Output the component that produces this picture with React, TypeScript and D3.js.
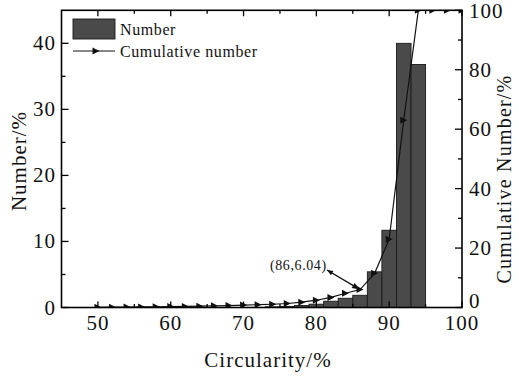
import React from "react";
import * as d3 from "d3";

const binCenters = [74, 76, 78, 80, 82, 84, 86, 88, 90, 92, 94];
const numberPct = [0.1, 0.15, 0.3, 0.5, 0.95, 1.4, 1.85, 5.4, 11.7, 40.0, 36.8];

const cumX = [50, 52, 54, 56, 58, 60, 62, 64, 66, 68, 70, 72, 74, 76, 78, 80, 82, 84, 86, 88, 90, 92, 94, 96, 98, 100];
const cumY = [0.05, 0.1, 0.15, 0.2, 0.25, 0.3, 0.35, 0.45, 0.55, 0.65, 0.8, 0.95, 1.1, 1.35, 1.8, 2.45, 3.4, 4.8, 6.04, 11.5, 23.0, 63.0, 100, 100, 100, 100];

const xMajor = [50, 60, 70, 80, 90, 100];
const xMinor = [55, 65, 75, 85, 95];
const yLeftMajor = [0, 10, 20, 30, 40];
const yLeftMinor = [5, 15, 25, 35];
const yRightMajor = [0, 20, 40, 60, 80, 100];
const yRightMinor = [10, 30, 50, 70, 90];

const annotation = { x: 86, y: 6.04, label: "(86,6.04)" };

const W = 519, H = 378;
const L = 61.5, R = 462, T = 10.3, B = 307.5;
const FONT = "'Liberation Serif', 'Times New Roman', serif";

export default function App() {
  const x = d3.scaleLinear().domain([45, 100]).range([L, R]);
  const yL = d3.scaleLinear().domain([0, 45]).range([B, T]);
  const yR = d3.scaleLinear().domain([0, 100]).range([B, T]);
  const binW = x(2) - x(0);
  const line = d3.line<number>().x((_, i) => x(cumX[i])).y((d) => yR(d));
  const tri = (cx: number, cy: number, s = 7) =>
    `M${cx - s / 2},${cy - s / 2}L${cx + s / 2},${cy}L${cx - s / 2},${cy + s / 2}Z`;

  const ax = x(annotation.x), ay = yR(annotation.y);
  const sx = 327, sy = 270;
  const ang = Math.atan2(ay - sy, ax - sx);
  const head = (px: number, py: number, a: number, len = 8, w = 3) => {
    const bx = px - len * Math.cos(a), by = py - len * Math.sin(a);
    const nx = -Math.sin(a) * w, ny = Math.cos(a) * w;
    return `M${px},${py}L${bx + nx},${by + ny}L${bx - nx},${by - ny}Z`;
  };

  const tickStyle = { stroke: "#000", strokeWidth: 1.3 };
  const lbl = { fontFamily: FONT, fontSize: 21, letterSpacing: 1.0, fill: "#111" };

  return (
    <svg width={W} height={H} style={{ position: "absolute", left: 0, top: 0, background: "#fff" }}>
      <defs>
        <clipPath id="plot">
          <rect x={L} y={T} width={R - L} height={B - T} />
        </clipPath>
      </defs>
      <g clipPath="url(#plot)">
        {binCenters.map((c, i) => (
          <rect key={c} x={x(c - 1)} y={yL(numberPct[i])} width={binW} height={B - yL(numberPct[i])}
            fill="#4a4a4a" stroke="#1a1a1a" strokeWidth={0.9} />
        ))}
        <path d={line(cumY) || ""} fill="none" stroke="#111" strokeWidth={1.2} />
        {cumY.map((v, i) => (
          <path key={i} d={tri(x(cumX[i]), yR(v))} fill="#111" />
        ))}
      </g>
      <rect x={L} y={T} width={R - L} height={B - T} fill="none" stroke="#000" strokeWidth={1.6} />
      {xMajor.map((v) => (
        <g key={"xm" + v}>
          <line x1={x(v)} x2={x(v)} y1={B} y2={B - 6} {...tickStyle} />
          <line x1={x(v)} x2={x(v)} y1={T} y2={T + 6} {...tickStyle} />
          <text x={x(v)} y={330} textAnchor="middle" {...lbl}>{v}</text>
        </g>
      ))}
      {xMinor.map((v) => (
        <g key={"xn" + v}>
          <line x1={x(v)} x2={x(v)} y1={B} y2={B - 3.5} {...tickStyle} />
          <line x1={x(v)} x2={x(v)} y1={T} y2={T + 3.5} {...tickStyle} />
        </g>
      ))}
      {yLeftMajor.map((v) => (
        <g key={"yl" + v}>
          <line x1={L} x2={L + 7} y1={yL(v)} y2={yL(v)} {...tickStyle} />
          <text x={56} y={yL(v) + 7} textAnchor="end" {...lbl}>{v}</text>
        </g>
      ))}
      {yLeftMinor.map((v) => (
        <line key={"yln" + v} x1={L} x2={L + 4} y1={yL(v)} y2={yL(v)} {...tickStyle} />
      ))}
      {yRightMajor.map((v) => (
        <g key={"yr" + v}>
          <line x1={R} x2={R - 7} y1={yR(v)} y2={yR(v)} {...tickStyle} />
          <text x={469} y={yR(v) + (v === 0 ? 0 : v === 100 ? 8 : 7)} textAnchor="start" {...lbl}>{v}</text>
        </g>
      ))}
      {yRightMinor.map((v) => (
        <line key={"yrn" + v} x1={R} x2={R - 4} y1={yR(v)} y2={yR(v)} {...tickStyle} />
      ))}
      <text x={268} y={367} textAnchor="middle" {...lbl}>Circularity/%</text>
      <text transform={`translate(26,161) rotate(-90)`} textAnchor="middle" {...lbl}>Number/%</text>
      <text transform={`translate(511,179) rotate(-90)`} textAnchor="middle" fontFamily={FONT} fontSize={20} letterSpacing={1.2} fill="#111">Cumulative Number/%</text>
      <text x={270} y={270} fontFamily={FONT} fontSize={14} letterSpacing={0.6} fill="#111">{annotation.label}</text>
      <line x1={sx} y1={sy} x2={ax} y2={ay} stroke="#111" strokeWidth={1.4} />
      <path d={head(ax, ay, ang)} fill="#111" />
      <path d={head(sx, sy, ang + Math.PI, 6, 2.5)} fill="#111" />
      <rect x={73} y={19} width={42} height={20} fill="#4a4a4a" stroke="#1a1a1a" strokeWidth={0.9} />
      <text x={120} y={35} fontFamily={FONT} fontSize={16} letterSpacing={0.6} fill="#111">Number</text>
      <line x1={73} x2={115} y1={51} y2={51} stroke="#111" strokeWidth={1.2} />
      <path d={tri(96, 51)} fill="#111" />
      <text x={120} y={57} fontFamily={FONT} fontSize={16} letterSpacing={0.6} fill="#111">Cumulative number</text>
    </svg>
  );
}
